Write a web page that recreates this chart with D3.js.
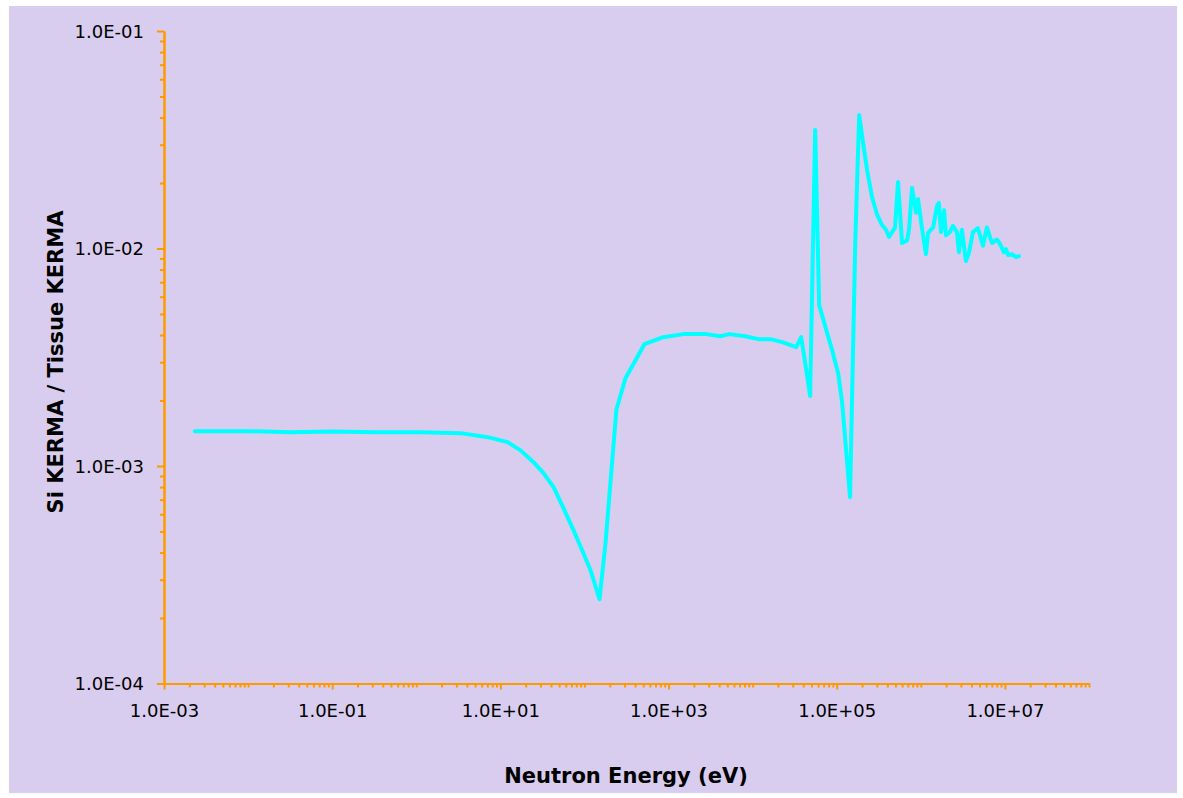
<!DOCTYPE html>
<html>
<head>
<meta charset="utf-8">
<script src="https://cdn.jsdelivr.net/npm/d3@7"></script>
<style>
  body { margin: 0; background: #ffffff; }
  text { font-family: "DejaVu Sans", Verdana, sans-serif; }
</style>
</head>
<body>
<div id="chart"></div>
<script>
// neutron energy (eV) and Si/tissue KERMA ratio
var energy = [
  2.33e-3, 1.0e-2, 3.22e-2, 0.1, 0.33, 1.13, 3.37, 7.05, 12.2, 17.4, 24.8, 32.6, 42.9, 56.3,
  74.0, 97.3, 118, 151, 178, 240, 307, 393, 516, 867, 1500, 2810, 4120, 5270, 8170,
  11700, 16200, 22500, 33000, 37800, 42200, 48300, 55400, 61800, 88100, 1.04e5,
  1.16e5, 1.44e5, 1.66e5, 1.85e5, 2.06e5, 2.30e5, 2.63e5, 3.02e5, 3.46e5, 3.86e5,
  4.19e5, 4.94e5, 5.36e5, 5.98e5, 6.86e5, 7.24e5, 7.87e5, 8.78e5, 9.27e5, 1.03e6,
  1.15e6, 1.22e6, 1.40e6, 1.56e6, 1.64e6, 1.74e6, 1.89e6, 1.99e6, 2.22e6, 2.41e6,
  2.69e6, 2.84e6, 3.08e6, 3.44e6, 3.73e6, 4.17e6, 4.78e6, 5.48e6, 6.11e6, 7.01e6,
  8.04e6, 8.73e6, 9.73e6, 1.03e7, 1.09e7, 1.21e7, 1.35e7, 1.47e7
];
var ratio = [
  1.445e-3, 1.445e-3, 1.43e-3, 1.44e-3, 1.43e-3, 1.43e-3, 1.416e-3, 1.357e-3, 1.287e-3, 1.18e-3,
  1.041e-3, 9.27e-4, 7.99e-4, 6.40e-4, 5.07e-4, 3.97e-4, 3.32e-4, 2.44e-4, 4.42e-4, 1.82e-3,
  2.53e-3, 3.00e-3, 3.63e-3, 3.91e-3, 4.04e-3, 4.04e-3, 3.95e-3, 4.04e-3, 3.95e-3,
  3.83e-3, 3.83e-3, 3.71e-3, 3.52e-3, 3.91e-3, 2.97e-3, 2.10e-3, 3.51e-2, 5.49e-3, 3.41e-3, 2.67e-3,
  1.95e-3, 7.19e-4, 1.06e-2, 4.11e-2, 3.05e-2, 2.29e-2, 1.72e-2, 1.43e-2, 1.28e-2, 1.22e-2,
  1.13e-2, 1.25e-2, 2.02e-2, 1.06e-2, 1.09e-2, 1.22e-2, 1.90e-2, 1.46e-2, 1.69e-2, 1.25e-2,
  9.42e-3, 1.18e-2, 1.25e-2, 1.57e-2, 1.62e-2, 1.19e-2, 1.50e-2, 1.15e-2, 1.19e-2, 1.27e-2,
  1.19e-2, 9.62e-3, 1.22e-2, 8.75e-3, 9.52e-3, 1.19e-2, 1.24e-2, 1.03e-2, 1.25e-2, 1.06e-2,
  1.10e-2, 1.05e-2, 9.62e-3, 9.94e-3, 9.33e-3, 9.42e-3, 9.12e-3, 9.23e-3
];

// labelled ticks
var xTickValues = [1e-3, 1e-1, 1e1, 1e3, 1e5, 1e7];
var xTickLabels = ["1.0E-03", "1.0E-01", "1.0E+01", "1.0E+03", "1.0E+05", "1.0E+07"];
var yTickValues = [1e-4, 1e-3, 1e-2, 1e-1];
var yTickLabels = ["1.0E-04", "1.0E-03", "1.0E-02", "1.0E-01"];

var width = 1183,
    height = 798,
    axisColor = "#ff9900";

var svg = d3.select("#chart").append("svg")
    .attr("width", width)
    .attr("height", height);

// lavender plot background
svg.append("rect")
    .attr("x", 9)
    .attr("y", 6)
    .attr("width", 1168)
    .attr("height", 787)
    .attr("fill", "#d8cdee");

var x = d3.scaleLog().domain([1e-3, 1e8]).range([164, 1089]);
var y = d3.scaleLog().domain([1e-4, 1e-1]).range([683.5, 31]);

// minor tick positions (every 1..9 step that isn't a labelled tick)
function minorTicks(lo, hi, majors) {
  var out = [];
  for (var e = lo; e <= hi; e++) {
    for (var k = 1; k <= 9; k++) {
      var v = k * Math.pow(10, e);
      if (e === hi && k > 1) break;
      if (!majors.some(function(m) { return Math.abs(m - v) / m < 1e-9; })) out.push(v);
    }
  }
  return out;
}

var xMinor = minorTicks(-3, 8, xTickValues);
var yMinor = minorTicks(-4, -1, yTickValues);

function styleAxis(g) {
  g.select(".domain").attr("stroke", axisColor).attr("stroke-width", 2);
  g.selectAll(".tick line").attr("stroke", axisColor).attr("stroke-width", 2);
}

// x axis
var xMinorG = svg.append("g")
    .attr("transform", "translate(0,683.5)")
    .call(d3.axisBottom(x).tickValues(xMinor).tickSize(4).tickSizeOuter(0).tickFormat(""));
styleAxis(xMinorG);

var xAxisG = svg.append("g")
    .attr("transform", "translate(0,683.5)")
    .call(d3.axisBottom(x).tickValues(xTickValues).tickSize(6).tickSizeOuter(0)
      .tickFormat(function(d, i) { return xTickLabels[i]; }));
styleAxis(xAxisG);
xAxisG.selectAll(".tick text")
    .attr("y", 33.5)
    .attr("dy", null)
    .attr("fill", "#000")
    .style("font-size", "18px")
    .style("font-family", "'DejaVu Sans', sans-serif");

// y axis
var yMinorG = svg.append("g")
    .attr("transform", "translate(164,0)")
    .call(d3.axisLeft(y).tickValues(yMinor).tickSize(4).tickSizeOuter(0).tickFormat(""));
styleAxis(yMinorG);

var yAxisG = svg.append("g")
    .attr("transform", "translate(164,0)")
    .call(d3.axisLeft(y).tickValues(yTickValues).tickSize(7).tickSizeOuter(0)
      .tickFormat(function(d, i) { return yTickLabels[i]; }));
styleAxis(yAxisG);
yAxisG.selectAll(".tick text")
    .attr("x", -20)
    .attr("dy", "0.36em")
    .attr("fill", "#000")
    .style("font-size", "18px")
    .style("font-family", "'DejaVu Sans', sans-serif");

// the curve
var points = energy.map(function(e, i) { return [e, ratio[i]]; });

var line = d3.line()
    .x(function(d) { return x(d[0]); })
    .y(function(d) { return y(d[1]); });

svg.append("path")
    .datum(points)
    .attr("d", line)
    .attr("fill", "none")
    .attr("stroke", "#00ffff")
    .attr("stroke-width", 4)
    .attr("stroke-linejoin", "round")
    .attr("stroke-linecap", "round");

// axis titles
svg.append("text")
    .attr("x", 626)
    .attr("y", 783)
    .attr("text-anchor", "middle")
    .style("font-size", "21px")
    .style("font-weight", "bold")
    .text("Neutron Energy (eV)");

svg.append("text")
    .attr("transform", "translate(63,362) rotate(-90)")
    .attr("text-anchor", "middle")
    .style("font-size", "21px")
    .style("font-weight", "bold")
    .text("Si KERMA / Tissue KERMA");
</script>
</body>
</html>
